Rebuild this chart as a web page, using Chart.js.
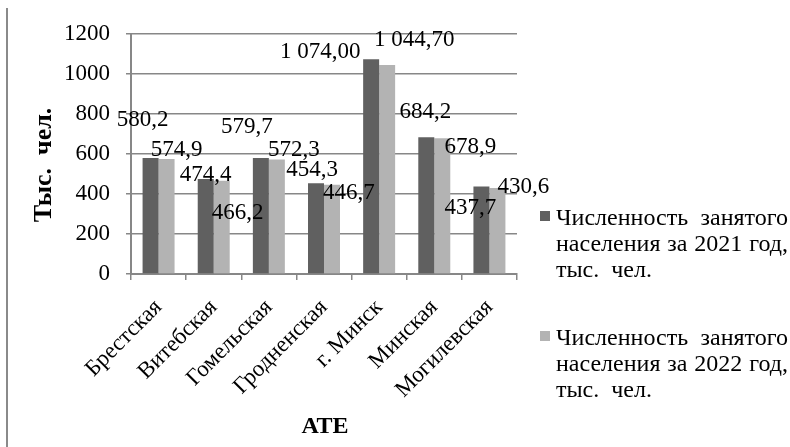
<!DOCTYPE html>
<html>
<head>
<meta charset="utf-8">
<script src="https://cdn.jsdelivr.net/npm/chart.js@4/dist/chart.umd.min.js"></script>
<style>
  html, body { margin: 0; padding: 0; background: #fff; }
  canvas { display: block; }
</style>
</head>
<body>
<canvas id="chart" width="790" height="447"></canvas>
<script>
// --- data ---
const categories = ['Брестская', 'Витебская', 'Гомельская', 'Гродненская', 'г. Минск', 'Минская', 'Могилевская'];
const values2021 = [580.2, 474.4, 579.7, 454.3, 1074.0, 684.2, 437.7];
const values2022 = [574.9, 466.2, 572.3, 446.7, 1044.7, 678.9, 430.6];
const text2021 = ['580,2', '474,4', '579,7', '454,3', '1 074,00', '684,2', '437,7'];
const text2022 = ['574,9', '466,2', '572,3', '446,7', '1 044,70', '678,9', '430,6'];
const legend2021 = ['Численность занятого', 'населения за 2021 год,', 'тыс. чел.'];
const legend2022 = ['Численность занятого', 'населения за 2022 год,', 'тыс. чел.'];
const yMin = 0, yMax = 1200, yStep = 200;
const yTitle = 'Тыс.  чел.';
const xTitle = 'АТЕ';

// label nudges (px) relative to bar top, mimicking the original placement
const nudge2021 = [[-8, -38], [0, -4], [-14, -31], [-4, -13], [-51, -7], [-1, -25], [-11, 21]];
const nudge2022 = [[10, -9], [16, 32], [17, -10], [17, 8], [27, -25], [28, 9], [26, -1]];

const SERIF = '"Liberation Serif", "Times New Roman", serif';
const DARK = '#606060';
const LIGHT = '#b3b3b3';
const AXIS = '#878787';

// draws the value labels, axis titles, legend and frame line
const decorPlugin = {
    id: 'decor',
    afterDatasetsDraw(chart) {
        const ctx = chart.ctx;
        ctx.save();
        ctx.fillStyle = '#000';
        ctx.font = `23px ${SERIF}`;
        ctx.textAlign = 'center';
        ctx.textBaseline = 'middle';
        [[text2021, nudge2021], [text2022, nudge2022]].forEach(([texts, nudges], di) => {
            chart.getDatasetMeta(di).data.forEach((bar, i) => {
                ctx.fillText(texts[i], bar.x + nudges[i][0], bar.y + nudges[i][1]);
            });
        });
        ctx.restore();
    },
    afterDraw(chart) {
        const ctx = chart.ctx;
        ctx.save();

        // left frame line
        ctx.strokeStyle = '#8a8a8a';
        ctx.lineWidth = 2;
        ctx.beginPath();
        ctx.moveTo(7, 8);
        ctx.lineTo(7, chart.height);
        ctx.stroke();

        // axis titles
        ctx.fillStyle = '#000';
        ctx.textAlign = 'center';
        ctx.textBaseline = 'middle';
        ctx.font = `bold 26px ${SERIF}`;
        ctx.save();
        ctx.translate(44, 165);
        ctx.rotate(-Math.PI / 2);
        ctx.fillText(yTitle, 0, 0);
        ctx.restore();
        ctx.font = `bold 24px ${SERIF}`;
        ctx.fillText(xTitle, 325, 427);

        // legend (justified lines like the original)
        const lx = 556, rx = 788;
        ctx.font = `24px ${SERIF}`;
        ctx.textAlign = 'left';
        ctx.textBaseline = 'alphabetic';
        [[legend2021, DARK, 225], [legend2022, LIGHT, 345]].forEach(([lines, color, base]) => {
            ctx.fillStyle = color;
            ctx.fillRect(540, base - 14, 10, 10);
            ctx.fillStyle = '#000';
            lines.forEach((line, li) => {
                const y = base + li * 26;
                const words = line.split(' ');
                if (li < lines.length - 1 && words.length > 1) {
                    const used = words.reduce((s, w) => s + ctx.measureText(w).width, 0);
                    const gap = (rx - lx - used) / (words.length - 1);
                    let x = lx;
                    words.forEach(w => {
                        ctx.fillText(w, x, y);
                        x += ctx.measureText(w).width + gap;
                    });
                } else {
                    ctx.fillText(line.replace(' ', '  '), lx, y);
                }
            });
        });
        ctx.restore();
    }
};

new Chart(document.getElementById('chart'), {
    type: 'bar',
    data: {
        labels: categories,
        datasets: [
            { label: legend2021.join(' '), data: values2021, backgroundColor: DARK },
            { label: legend2022.join(' '), data: values2022, backgroundColor: LIGHT }
        ]
    },
    options: {
        responsive: false,
        animation: false,
        layout: { padding: { left: 0, top: 34, right: 273, bottom: 0 } },
        datasets: { bar: { categoryPercentage: 0.58, barPercentage: 1.0 } },
        plugins: { legend: { display: false }, tooltip: { enabled: false } },
        scales: {
            x: {
                offset: true,
                grid: { display: true, offset: true, drawOnChartArea: false, drawTicks: true, tickLength: 6, color: AXIS, lineWidth: 1.5 },
                border: { display: true, color: AXIS, width: 2 },
                ticks: { color: '#000', font: { family: SERIF, size: 23 }, maxRotation: 45, minRotation: 45, padding: 14 },
                afterFit(scale) { scale.height = 173; }
            },
            y: {
                min: yMin,
                max: yMax,
                ticks: { stepSize: yStep, color: '#000', font: { family: SERIF, size: 23 }, padding: 16, callback: v => String(v) },
                grid: { color: AXIS, lineWidth: 1.5, tickLength: 5 },
                border: { display: true, color: AXIS, width: 2 },
                afterFit(scale) { scale.width = 131; }
            }
        }
    },
    plugins: [decorPlugin]
});
</script>
</body>
</html>
